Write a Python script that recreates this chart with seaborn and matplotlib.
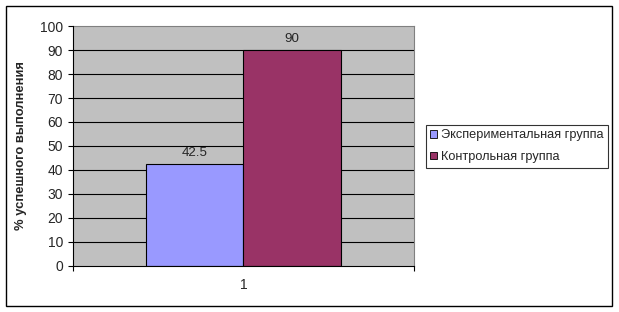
import matplotlib
matplotlib.use("Agg")
import matplotlib.pyplot as plt
from matplotlib.patches import Rectangle
import seaborn as sns
import pandas as pd

categories = ["1", "1"]
groups = ["Экспериментальная группа", "Контрольная группа"]
values = [42.5, 90]
y_ticks = [0, 10, 20, 30, 40, 50, 60, 70, 80, 90, 100]
y_label = "% успешного выполнения"
colors = ["#9999FF", "#993366"]

sns.set_style("white")
plt.rcParams["font.family"] = ["Liberation Sans", "DejaVu Sans"]
FS = 9.6
plt.rcParams["font.size"] = FS

W, H = 619, 312
fig = plt.figure(figsize=(W / 100, H / 100), dpi=100)
fig.patch.set_facecolor("white")

left, right, top, bottom = 72.5, 414.5, 26.3, 265.5
ax = fig.add_axes([left / W, 1 - bottom / H, (right - left) / W, (bottom - top) / H])
ax.set_facecolor("#C0C0C0")

df = pd.DataFrame({"cat": categories, "group": groups, "value": values})
sns.barplot(data=df, x="cat", y="value", hue="group", hue_order=groups,
            palette=colors, width=0.57, gap=0, edgecolor="black", linewidth=0.8,
            saturation=1, ax=ax, legend=True, zorder=3)

for c in ax.containers:
    ax.bar_label(c, fmt="%g", padding=3.5, fontsize=FS)

ax.set_xlim(-0.5, 0.5)
ax.set_ylim(0, 100)
ax.set_yticks(y_ticks)
ax.set_yticklabels([str(t) for t in y_ticks])
ax.tick_params(axis="y", direction="out", length=3.6, width=0.8, pad=3.2,
               left=True, color="black", labelsize=FS + 0.4)
ax.set_xticks([0])
ax.set_xticklabels(["1"])
ax.tick_params(axis="x", which="major", length=0, pad=9, labelsize=FS + 0.4)
ax.set_xticks([-0.5, 0.5], minor=True)
ax.tick_params(axis="x", which="minor", direction="out", length=3.6, width=0.8,
               bottom=True, color="black")
ax.set_xlabel("")
ax.set_ylabel(y_label, fontweight="bold", fontsize=FS - 0.2)
ax.yaxis.set_label_coords((27 - left) / (right - left), 0.5)

ax.set_axisbelow(True)
for t in y_ticks[1:-1]:
    ax.axhline(t, color="black", linewidth=0.8, zorder=1)

for s in ["left", "bottom"]:
    ax.spines[s].set_color("black")
    ax.spines[s].set_linewidth(0.8)
    ax.spines[s].set_zorder(4)
for s in ["top", "right"]:
    ax.spines[s].set_color("#808080")
    ax.spines[s].set_linewidth(0.8)

handles, labels = ax.get_legend_handles_labels()
ax.legend_.remove()
leg = fig.legend(handles, labels, loc="upper left",
                 bbox_to_anchor=(425.7 / W, 1 - 125 / H),
                 frameon=True, fancybox=False, shadow=False,
                 borderpad=0.35, handlelength=0.5, handleheight=0.5,
                 handletextpad=0.35, labelspacing=0.75, borderaxespad=0,
                 fontsize=9.2)
leg.get_frame().set_edgecolor("black")
leg.get_frame().set_linewidth(0.8)
for h in leg.legend_handles:
    h.set_edgecolor("black")
    h.set_linewidth(0.6)

fig.patches.append(Rectangle((5.5 / W, 1 - 305.5 / H), (612.3 - 5.5) / W, (305.5 - 5.5) / H,
                             transform=fig.transFigure, fill=False,
                             edgecolor="black", linewidth=1.0, zorder=10))

fig.savefig("out.png", dpi=100, facecolor="white")
